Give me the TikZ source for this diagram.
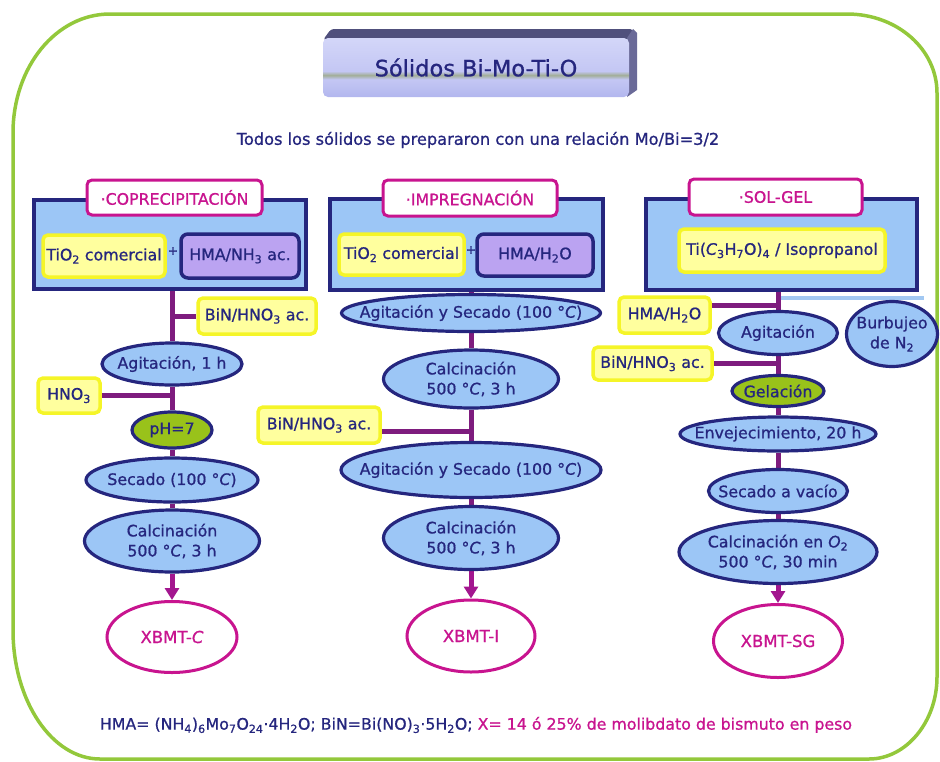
\documentclass[tikz,border=0pt]{standalone}
\usepackage{fontspec}
\setmainfont{DejaVu Sans}[FakeBold=0.9]
\usetikzlibrary{shapes.geometric,arrows.meta}

\pgfdeclarelayer{links}
\pgfsetlayers{links,main}

\definecolor{inkblue}{HTML}{25267E}
\definecolor{skyfill}{HTML}{9CC6F6}
\definecolor{lemonfill}{HTML}{FFFF9E}
\definecolor{lemonedge}{HTML}{F5F528}
\definecolor{lilacfill}{HTML}{BBA3F1}
\definecolor{fuchsia}{HTML}{C8148F}
\definecolor{plum}{HTML}{7E1C7E}
\definecolor{arrowplum}{HTML}{A3168F}
\definecolor{leaf}{HTML}{99C21A}
\definecolor{framegreen}{HTML}{93C83B}
\definecolor{bubble}{HTML}{A2C8F2}
\definecolor{ttltop}{HTML}{50507C}
\definecolor{ttlside}{HTML}{6A6A98}
\definecolor{lavtop}{HTML}{D3D6F8}
\definecolor{lavmid}{HTML}{C4C7F4}
\definecolor{lavbot}{HTML}{B2B6EE}
\definecolor{stripe}{HTML}{A2AE98}

% front face of the title bar: lavender with a soft grey-green band
\pgfdeclareverticalshading{titleband}{100bp}{color(0bp)=(lavbot); color(25bp)=(lavbot); color(40bp)=(lavmid); color(43.5bp)=(stripe); color(47bp)=(lavmid); color(75bp)=(lavtop); color(100bp)=(lavtop)}

\tikzset{
  every node/.style={inner sep=0pt, text=inkblue, font=\fontsize{15.8}{20}\selectfont},
  panel/.style={draw=inkblue, fill=skyfill, line width=4.5pt},
  tagbox/.style={draw=fuchsia, fill=white, line width=3pt, rounded corners=5pt, text=fuchsia},
  lemon/.style={draw=lemonedge, fill=lemonfill, line width=3.5pt, rounded corners=5pt},
  lilac/.style={draw=inkblue, fill=lilacfill, line width=3.5pt, rounded corners=7pt},
  proc/.style={ellipse, draw=inkblue, fill=skyfill, line width=3.2pt},
  gel/.style={proc, fill=leaf},
  product/.style={ellipse, draw=fuchsia, fill=white, line width=3pt},
  ptext/.style={align=center, text=inkblue},
  prodtext/.style={text=fuchsia, font=\fontsize{16.5}{20}\selectfont},
  plus/.style={font=\fontsize{12}{12}\selectfont},
  link/.style={draw=plum, line width=5pt},
  flow/.style={draw=arrowplum, line width=5pt, -{Triangle[length=12pt,width=14pt]}},
  bubblelink/.style={draw=bubble, line width=4pt},
}

\begin{document}
\begin{tikzpicture}[x=1pt, y=-1pt]
\useasboundingbox (0,0) rectangle (940,761);

% outer frame
\draw[framegreen, line width=3.5pt]
  (110,14) -- (847,14) .. controls (897,14) and (937,49) .. (937,93)
  -- (937,677) .. controls (937,722) and (906,759) .. (869,759)
  -- (100,759) .. controls (52,759) and (13,701) .. (13,630)
  -- (13,133) .. controls (13,67) and (56,14) .. (110,14) -- cycle;

% title bar
\node[shading=titleband, rounded corners=5pt, minimum width=306, minimum height=59,
      font=\fontsize{22.5}{26}\selectfont] (ttl) at (476,67.5) {Sólidos Bi-Mo-Ti-O};
\node[font=\fontsize{16.2}{20}\selectfont] (sub) at (478,140) {Todos los sólidos se prepararon con una relación Mo/Bi=3/2};

% ---------------- coprecipitation ----------------
\node[panel, minimum width=272, minimum height=89] (cpanel) at (170,244.5) {};
\node[tagbox, minimum width=175, minimum height=35] (ctag) at (174.5,197.5) {·COPRECIPITACIÓN};
\node[lemon, minimum width=122, minimum height=42] (cti) at (104,256) {TiO\textsubscript{2} comercial};
\node[plus] (cplus) at (173,251) {+};
\node[lilac, minimum width=118, minimum height=44] (chma) at (240,256) {HMA/NH\textsubscript{3} ac.};
\node[lemon, minimum width=118, minimum height=36] (cbin) at (257,316) {BiN/HNO\textsubscript{3} ac.};
\node[proc, minimum width=140, minimum height=42, label={[ptext]center:{Agitación, 1 h}}] (c1) at (172,364) {};
\node[lemon, minimum width=62, minimum height=35] (chno) at (69,395.5) {HNO\textsubscript{3}};
\node[gel, minimum width=80, minimum height=36, label={[ptext]center:{pH=7}}] (c2) at (172,430) {};
\node[proc, minimum width=172, minimum height=44, label={[ptext]center:{Secado (100 °\textit{C})}}] (c3) at (172,480) {};
\node[proc, minimum width=175, minimum height=62, label={[ptext]center:{Calcinación\\500 °\textit{C}, 3 h}}] (c4) at (172,541) {};
\node[product, minimum width=130, minimum height=71, label={[prodtext]center:{XBMT-\textit{C}}}] (cprod) at (172,637) {};

% ---------------- impregnation ----------------
\node[panel, minimum width=273, minimum height=91] (ipanel) at (466.5,244.5) {};
\node[tagbox, minimum width=174, minimum height=36] (itag) at (470,198) {·IMPREGNACIÓN};
\node[lemon, minimum width=125, minimum height=41] (iti) at (401.5,254.5) {TiO\textsubscript{2} comercial};
\node[plus] (iplus) at (471,250) {+};
\node[lilac, minimum width=116, minimum height=42] (ihma) at (535,255) {HMA/H\textsubscript{2}O};
\node[proc, minimum width=259, minimum height=37, label={[ptext]center:{Agitación y Secado (100 °\textit{C})}}] (i1) at (471,313) {};
\node[proc, minimum width=175, minimum height=58, label={[ptext]center:{Calcinación\\500 °\textit{C}, 3 h}}] (i2) at (471,379) {};
\node[lemon, minimum width=122, minimum height=36] (ibin) at (319,425) {BiN/HNO\textsubscript{3} ac.};
\node[proc, minimum width=260, minimum height=55, label={[ptext]center:{Agitación y Secado (100 °\textit{C})}}] (i3) at (471,470) {};
\node[proc, minimum width=175, minimum height=63, label={[ptext]center:{Calcinación\\500 °\textit{C}, 3 h}}] (i4) at (471,538) {};
\node[product, minimum width=128, minimum height=72, label={[prodtext]center:{XBMT-I}}] (iprod) at (471,636) {};

% ---------------- sol-gel ----------------
\node[panel, minimum width=271, minimum height=91] (spanel) at (781.5,244.5) {};
\node[tagbox, minimum width=173, minimum height=36] (stag) at (775.5,197) {·SOL-GEL};
\node[lemon, minimum width=206, minimum height=43] (sti) at (782,250.5) {Ti(\textit{C}\textsubscript{3}H\textsubscript{7}O)\textsubscript{4} / Isopropanol};
\node[lemon, minimum width=91, minimum height=36] (shma) at (664.5,315) {HMA/H\textsubscript{2}O};
\node[proc, minimum width=119, minimum height=43, label={[ptext]center:{Agitación}}] (s1) at (778,333) {};
\node[proc, minimum width=91, minimum height=65, label={[ptext]center:{Burbujeo\\de N\textsubscript{2}}}] (sbur) at (892,334) {};
\node[lemon, minimum width=119, minimum height=33] (sbin) at (652.5,363.5) {BiN/HNO\textsubscript{3} ac.};
\node[gel, minimum width=92, minimum height=31, label={[ptext]center:{Gelación}}] (s2) at (778,391) {};
\node[proc, minimum width=196, minimum height=34, label={[ptext]center:{Envejecimiento, 20 h}}] (s3) at (778,434) {};
\node[proc, minimum width=139, minimum height=43, label={[ptext]center:{Secado a vacío}}] (s4) at (778,491) {};
\node[proc, minimum width=198, minimum height=63, label={[ptext]center:{Calcinación en \textit{O}\textsubscript{2}\\500 °\textit{C}, 30 min}}] (s5) at (778,552) {};
\node[product, minimum width=129, minimum height=73, label={[prodtext]center:{XBMT-SG}}] (sprod) at (778,641) {};
\coordinate (sjoin) at (778,298);
\coordinate (sbend) at (924,298);

% footnote
\node (foot) at (476,725) {HMA= (NH\textsubscript{4})\textsubscript{6}Mo\textsubscript{7}O\textsubscript{24}·4H\textsubscript{2}O; BiN=Bi(NO)\textsubscript{3}·5H\textsubscript{2}O; \textcolor{fuchsia}{X= 14 ó 25\% de molibdato de bismuto en peso}};

\begin{pgfonlayer}{links}
  % bevelled top and side of the title bar
  \fill[ttltop, rounded corners=3pt] (323,40) -- (331,29) -- (633,29) -- (629,40) -- cycle;
  \fill[ttlside] (627,38) -- (633,29) -- (637,33) -- (637,90) -- (627,97) -- cycle;

  % coprecipitation
  \draw[link] (c1 |- cpanel.center) -- (c1) -- (c2) -- (c3) -- (c4);
  \draw[link] (cbin) -- (cbin -| c1);
  \draw[link] (chno) -- (chno -| c1);
  \draw[flow] (c4) -- (cprod);

  % impregnation
  \draw[link] (i1 |- ipanel.center) -- (i1) -- (i2) -- (i3) -- (i4);
  \draw[link] ([yshift=-6pt]ibin.east) -- ([yshift=-6pt]ibin.east -| i2);
  \draw[flow] (i4) -- (iprod);

  % sol-gel
  \draw[bubblelink] (sjoin) -- (sbend);
  \draw[link] (s1 |- spanel.center) -- (s1) -- (s2) -- (s3) -- (s4) -- (s5);
  \draw[link] ([yshift=10pt]shma.east) -- ([yshift=10pt]shma.east -| s1);
  \draw[link] (sbin) -- (sbin -| s1);
  \draw[flow] (s5) -- (sprod);
\end{pgfonlayer}
\end{tikzpicture}
\end{document}
